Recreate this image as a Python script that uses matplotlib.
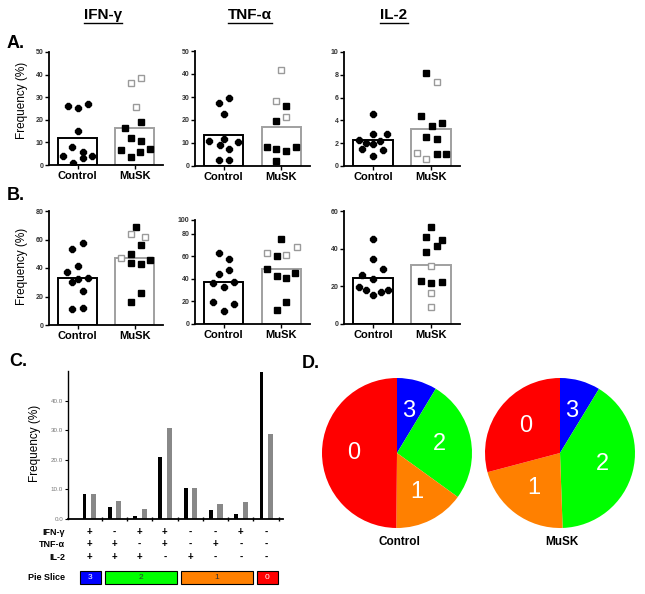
import numpy as np
import matplotlib
matplotlib.use("Agg")
import matplotlib.pyplot as plt
from matplotlib.patches import Rectangle
from matplotlib.lines import Line2D
from matplotlib.transforms import blended_transform_factory

plt.rcParams["font.family"] = ["Liberation Sans", "DejaVu Sans"]

W, H = 645, 594

groups = ["Control", "MuSK"]
cytokines = ["IFN-γ", "TNF-α", "IL-2"]

# ---- panel A: frequency of single cytokine producers (%)
a_ifn_ctrl = [26.3, 25.4, 26.8, 15.1, 8.1, 4.1, 5.9, 2.9, 4.1, 0.7]
a_ifn_musk = [16.5, 19.0, 12.1, 10.6, 6.6, 3.4, 5.9, 7.1]
a_ifn_musk_open = [36.3, 38.7, 25.7]

a_tnf_ctrl = [27.5, 29.4, 22.5, 10.9, 11.9, 10.6, 9.0, 7.2, 2.6, 2.6]
a_tnf_musk = [26.2, 19.7, 8.4, 7.5, 6.4, 8.1, 2.2]
a_tnf_musk_open = [41.7, 28.3, 21.2]

a_il2_ctrl = [4.6, 2.8, 2.8, 2.3, 2.0, 2.2, 1.9, 1.5, 1.4, 0.9]
a_il2_musk = [8.2, 4.4, 3.5, 3.8, 2.5, 2.4, 1.05, 1.05]
a_il2_musk_open = [7.4, 1.1, 0.64]

# ---- panel B
b_ifn_ctrl = [53.3, 57.7, 41.4, 36.9, 29.9, 32.2, 33.2, 23.8, 11.2, 11.7]
b_ifn_musk = [68.9, 56.1, 49.5, 43.2, 42.5, 45.6, 22.2, 15.9]
b_ifn_musk_open = [63.6, 61.9, 47.2]

b_tnf_ctrl = [62.9, 57.9, 48.2, 43.8, 35.9, 32.9, 37.4, 19.7, 17.6, 11.5]
b_tnf_musk = [75.6, 60.3, 48.5, 42.6, 40.9, 44.7, 19.7, 12.1]
b_tnf_musk_open = [62.4, 60.9, 67.9]

b_il2_ctrl = [45.0, 34.3, 29.0, 26.0, 23.7, 19.5, 18.1, 15.4, 17.2, 17.9]
b_il2_musk = [51.7, 46.2, 44.6, 41.6, 38.4, 22.8, 21.9, 22.5]
b_il2_musk_open = [30.8, 16.3, 8.8]

# horizontal scatter of the dots around each column (column widths)
a_ifn_ctrl_dx = [-0.16, 0.01, 0.19, 0.01, -0.09, -0.25, 0.09, 0.09, 0.25, -0.08]
a_ifn_musk_dx = [-0.16, 0.11, -0.07, 0.11, -0.23, -0.06, 0.09, 0.27]
a_ifn_open_dx = [-0.07, 0.11, 0.02]
a_tnf_ctrl_dx = [-0.09, 0.09, 0.01, -0.25, 0.0, 0.25, -0.07, 0.09, -0.09, 0.09]
a_tnf_musk_dx = [0.09, -0.09, -0.25, -0.09, 0.09, 0.25, -0.09]
a_tnf_open_dx = [0.0, -0.09, 0.09]
a_il2_ctrl_dx = [0.0, 0.0, 0.24, -0.25, -0.12, 0.12, 0.0, -0.19, 0.18, 0.0]
a_il2_musk_dx = [-0.08, -0.18, 0.01, 0.19, -0.08, 0.1, 0.1, 0.26]
a_il2_open_dx = [0.1, -0.24, -0.08]
b_ifn_ctrl_dx = [-0.09, 0.1, 0.0, -0.18, -0.09, 0.0, 0.18, 0.09, -0.09, 0.09]
b_ifn_musk_dx = [0.02, 0.11, -0.07, -0.07, 0.11, 0.27, 0.11, -0.07]
b_ifn_open_dx = [-0.07, 0.19, -0.23]
b_tnf_ctrl_dx = [-0.09, 0.09, 0.09, -0.09, -0.18, 0.0, 0.17, -0.18, 0.17, 0.0]
b_tnf_musk_dx = [0.0, -0.08, -0.25, -0.08, 0.09, 0.24, 0.09, -0.08]
b_tnf_open_dx = [-0.25, 0.09, 0.27]
b_il2_ctrl_dx = [0.0, 0.0, 0.18, -0.19, 0.0, -0.25, -0.12, 0.0, 0.13, 0.26]
b_il2_musk_dx = [0.0, -0.08, 0.19, 0.1, -0.08, -0.18, 0.0, 0.19]
b_il2_open_dx = [0.0, 0.0, 0.0]

# ---- panel C: polyfunctional combinations
combo_ifn = ["+", "-", "+", "+", "-", "-", "+", "-"]
combo_tnf = ["+", "+", "-", "+", "-", "+", "-", "-"]
combo_il2 = ["+", "+", "+", "-", "+", "-", "-", "-"]
c_ctrl = [8.6, 4.1, 1.0, 21.1, 10.4, 2.9, 1.8, 49.6]
c_musk = [8.6, 6.1, 3.4, 30.8, 10.4, 5.0, 5.8, 28.8]
combo_slice = [3, 2, 2, 2, 1, 1, 1, 0]   # number of cytokines

slice_order = [3, 2, 1, 0]
slice_colors = {3: "#0000FF", 2: "#00FF00", 1: "#FF8000", 0: "#FF0000"}
slice_text = {3: "white", 2: "#333333", 1: "#333333", 0: "white"}


def px_rect(l, t, r, b):
    return [l / W, 1 - b / H, (r - l) / W, (b - t) / H]


fig = plt.figure(figsize=(W / 100, H / 100), dpi=100)


def dot_panel(rect, ctrl, ctrl_dx, musk, musk_dx, mopen, mopen_dx,
              ylim, yticks, yticklabels):
    ax = fig.add_axes(px_rect(*rect))
    ax.bar([0], [np.mean(ctrl)], width=0.68, color="white",
           edgecolor="black", linewidth=1.4, zorder=1)
    ax.bar([1], [np.mean(musk + mopen)], width=0.68, color="white",
           edgecolor="#A0A0A0", linewidth=1.4, zorder=1)
    ax.plot(np.array(ctrl_dx), ctrl, ls="none", marker="8", ms=4.8,
            color="black", zorder=3)
    ax.plot(1 + np.array(musk_dx), musk, ls="none", marker="s", ms=4.4,
            color="black", zorder=3)
    ax.plot(1 + np.array(mopen_dx), mopen, ls="none", marker="s", ms=4.4,
            mfc="white", mec="#9A9A9A", mew=1.0, zorder=3)
    ax.set_xlim(-0.5, 1.5)
    ax.set_ylim(*ylim)
    ax.set_yticks(yticks)
    ax.set_yticklabels(yticklabels, fontsize=5, fontweight="bold",
                       color="#333333")
    ax.set_xticks([0, 1])
    ax.set_xticklabels(groups, fontsize=8, fontweight="bold")
    ax.tick_params(axis="x", length=3, width=1, pad=1)
    ax.tick_params(axis="y", length=3, width=1, pad=1)
    for s in ("top", "right"):
        ax.spines[s].set_visible(False)
    for s in ("left", "bottom"):
        ax.spines[s].set_linewidth(1.3)
    return ax


def ticks(top, step):
    v = list(range(0, top + 1, step))
    return v, [str(x) for x in v]


t, l = ticks(50, 10)
dot_panel((49, 52, 163, 165), a_ifn_ctrl, a_ifn_ctrl_dx, a_ifn_musk,
          a_ifn_musk_dx, a_ifn_musk_open, a_ifn_open_dx, (0, 50), t, l)
dot_panel((195, 51, 310, 166), a_tnf_ctrl, a_tnf_ctrl_dx, a_tnf_musk,
          a_tnf_musk_dx, a_tnf_musk_open, a_tnf_open_dx, (0, 50), t, l)
t, l = ticks(10, 2)
dot_panel((344, 52, 460, 166), a_il2_ctrl, a_il2_ctrl_dx, a_il2_musk,
          a_il2_musk_dx, a_il2_musk_open, a_il2_open_dx, (0, 10), t, l)

t, l = ticks(80, 20)
dot_panel((49, 211, 163, 325), b_ifn_ctrl, b_ifn_ctrl_dx, b_ifn_musk,
          b_ifn_musk_dx, b_ifn_musk_open, b_ifn_open_dx, (0, 80), t, l)
dot_panel((195, 220, 310, 324), b_tnf_ctrl, b_tnf_ctrl_dx, b_tnf_musk,
          b_tnf_musk_dx, b_tnf_musk_open, b_tnf_open_dx, (0, 92),
          t + [92], l + ["100"])
t, l = ticks(60, 20)
dot_panel((344, 211, 460, 324), b_il2_ctrl, b_il2_ctrl_dx, b_il2_musk,
          b_il2_musk_dx, b_il2_musk_open, b_il2_open_dx, (0, 60), t, l)

# column titles, underlined
renderer = fig.canvas.get_renderer()
for name, xc in zip(cytokines, [103, 250, 394]):
    tx = fig.text(xc / W, 1 - 15 / H, name, fontsize=11, fontweight="bold",
                  ha="center", va="center")
    bb = tx.get_window_extent(renderer)
    fig.add_artist(Line2D([bb.x0 / W, bb.x1 / W], [1 - 22.5 / H, 1 - 22.5 / H],
                          color="black", lw=1.0))

for letter, x, y in [("A.", 7, 43), ("B.", 7, 195), ("C.", 9, 362),
                     ("D.", 302, 364)]:
    fig.text(x / W, 1 - y / H, letter, fontsize=13, fontweight="bold",
             ha="left", va="center")

for y in (100, 266):
    fig.text(22 / W, 1 - y / H, "Frequency (%)", rotation=90, fontsize=8.5,
             ha="center", va="center")

# ---- panel C bars
axc = fig.add_axes(px_rect(68, 371, 283, 519))
xs = np.arange(len(c_ctrl))
axc.bar(xs - 0.18, c_ctrl, width=0.15, color="black", zorder=2)
axc.bar(xs + 0.18, c_musk, width=0.2, color="#888888", zorder=2)
axc.set_xlim(-0.83, 7.67)
axc.set_ylim(0, 50)
axc.set_yticks([0, 10, 20, 30, 40])
axc.set_yticklabels(["0.0", "10.0", "20.0", "30.0", "40.0"], fontsize=4.5,
                    color="#777777")
axc.set_xticks(xs + 0.5)
axc.set_xticklabels([])
axc.tick_params(axis="x", length=3, width=1, direction="inout")
axc.tick_params(axis="y", length=2.5, width=0.8, pad=1)
for s in ("top", "right"):
    axc.spines[s].set_visible(False)
axc.spines["left"].set_linewidth(1.0)
axc.spines["bottom"].set_linewidth(1.3)
fig.text(35 / W, 1 - 443 / H, "Frequency (%)", rotation=90, fontsize=8.5,
         ha="center", va="center")

tr = blended_transform_factory(axc.transData, axc.transAxes)
rows = [("IFN-γ", combo_ifn, -0.088), ("TNF-α", combo_tnf, -0.17),
        ("IL-2", combo_il2, -0.257)]
for name, signs, yy in rows:
    axc.text(-0.95, yy, name, transform=tr, ha="right", va="center",
             fontsize=6.5, fontweight="bold", clip_on=False)
    for i, s in enumerate(signs):
        axc.text(i, yy, s, transform=tr, ha="center", va="center",
                 fontsize=7, fontweight="bold", clip_on=False)

axc.text(-0.95, -0.395, "Pie Slice", transform=tr, ha="right", va="center",
         fontsize=6.5, fontweight="bold", clip_on=False)
for k in slice_order:
    idx = [i for i, c in enumerate(combo_slice) if c == k]
    x0, x1 = min(idx) - 0.36, max(idx) + 0.47
    axc.add_patch(Rectangle((x0, -0.439), x1 - x0, 0.088, transform=tr,
                            facecolor=slice_colors[k], edgecolor="black",
                            lw=0.8, clip_on=False))
    axc.text((x0 + x1) / 2, -0.395, str(k), transform=tr, ha="center",
             va="center", fontsize=6, color=slice_text[k], clip_on=False)

# ---- panel D pies
for vals, xc, name in [(c_ctrl, 397, "Control"), (c_musk, 560, "MuSK")]:
    sizes = [sum(v for v, c in zip(vals, combo_slice) if c == k)
             for k in slice_order]
    axp = fig.add_axes(px_rect(xc - 75, 378, xc + 75, 528))
    wedges, texts = axp.pie(sizes, colors=[slice_colors[k] for k in slice_order],
                            labels=[str(k) for k in slice_order],
                            labeldistance=0.58, startangle=90,
                            counterclock=False,
                            textprops=dict(color="white", fontsize=17))
    for tt in texts:
        tt.set_ha("center")
        tt.set_va("center")
    axp.set_xlim(-1, 1)
    axp.set_ylim(-1, 1)
    axp.set_aspect("equal")
    fig.text((xc + 2) / W, 1 - 542 / H, name, fontsize=8.5, fontweight="bold",
             ha="center", va="center")

fig.savefig("out.png", dpi=100)
